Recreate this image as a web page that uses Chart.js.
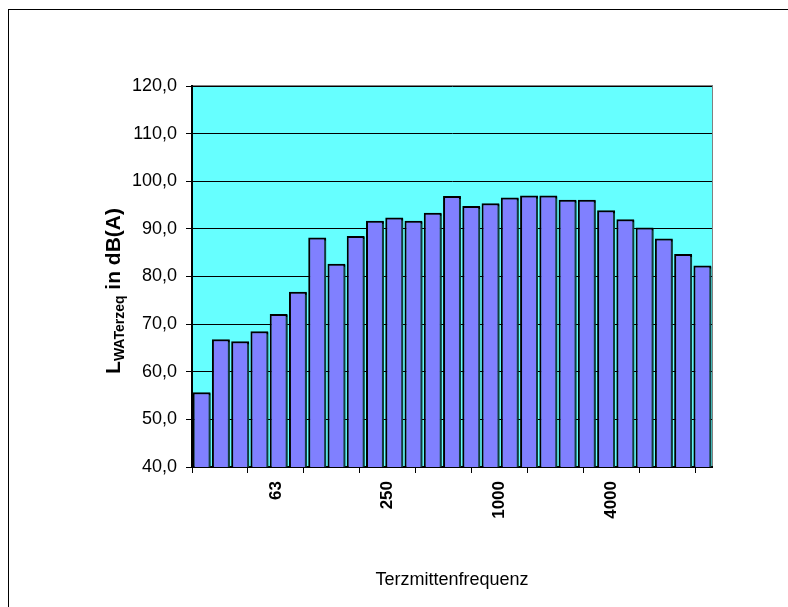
<!DOCTYPE html>
<html>
<head>
<meta charset="utf-8">
<script src="https://cdn.jsdelivr.net/npm/chart.js@4.4.1/dist/chart.umd.min.js"></script>
<style>
    html, body { margin: 0; padding: 0; background: #fff; overflow: hidden; }
    #frame { position: absolute; left: 8px; top: 9px; width: 2000px; height: 2000px; border: 1px solid #000; }
    #wrap { position: absolute; left: 0; top: 0; width: 788px; height: 607px; }
</style>
</head>
<body>
<div id="frame"></div>
<div id="wrap"><canvas id="chart"></canvas></div>
<script>
// third-octave centre frequencies (Hz)
const frequencies = ['25', '31,5', '40', '50', '63', '80', '100', '125', '160', '200', '250', '315', '400', '500',
    '630', '800', '1000', '1250', '1600', '2000', '2500', '3150', '4000', '5000', '6300', '8000', '10000'];
// L_WATerzeq in dB(A)
const levels = [55.7, 66.8, 66.4, 68.5, 72.1, 76.8, 88.2, 82.7, 88.5, 91.7, 92.4, 91.7, 93.4, 96.9,
    94.8, 95.4, 96.6, 97.0, 97.0, 96.1, 96.1, 93.9, 92.0, 90.3, 88.0, 84.7, 82.3];
const xTickLabels = ['63', '250', '1000', '4000'];
const yMin = 40;
const yMax = 120;
const yStep = 10;

const FONT = "'Liberation Sans', Arial, sans-serif";

// the frequency axis of the original has its own tick spacing (one tick every ~2.9 bars)
const tickUnits = 9.3;

const plotBackground = {
    id: 'plotBackground',
    beforeDraw: function (chart) {
        const a = chart.chartArea;
        const ctx = chart.ctx;
        ctx.save();
        ctx.fillStyle = '#66ffff';
        ctx.fillRect(a.left, a.top, a.right - a.left, a.bottom - a.top);
        ctx.strokeStyle = '#808080';
        ctx.lineWidth = 1;
        ctx.strokeRect(a.left + 0.5, a.top - 0.5, a.right - a.left, a.bottom - a.top);
        ctx.restore();
    },
    beforeDatasetsDraw: function (chart) {
        const ctx = chart.ctx;
        ctx.save();
        ctx.shadowColor = 'rgba(20, 70, 70, 0.85)';
        ctx.shadowOffsetX = 2;
        ctx.shadowOffsetY = 1;
        ctx.shadowBlur = 0;
    },
    afterDatasetsDraw: function (chart) {
        chart.ctx.restore();
    }
};

// y title with subscript, drawn rotated
const yTitle = {
    id: 'yTitle',
    afterDraw: function (chart) {
        const ctx = chart.ctx;
        const parts = [
            { text: 'L', size: 21, shift: 0 },
            { text: 'WATerzeq', size: 14, shift: 4 },
            { text: ' in dB(A)', size: 21, shift: 0 }
        ];
        let total = 0;
        parts.forEach((p) => {
            ctx.font = 'bold ' + p.size + 'px ' + FONT;
            p.w = ctx.measureText(p.text).width;
            total += p.w;
        });
        ctx.save();
        ctx.translate(120, 291 + total / 2);
        ctx.rotate(-Math.PI / 2);
        ctx.fillStyle = '#000';
        ctx.textBaseline = 'alphabetic';
        ctx.textAlign = 'left';
        let x = 0;
        parts.forEach((p) => {
            ctx.font = 'bold ' + p.size + 'px ' + FONT;
            ctx.fillText(p.text, x, p.shift);
            x += p.w;
        });
        ctx.restore();
    }
};

new Chart(document.getElementById('chart').getContext('2d'), {
    type: 'bar',
    data: {
        labels: frequencies,
        datasets: [{
            label: 'LWATerzeq',
            data: levels,
            backgroundColor: '#8080ff',
            borderColor: '#000',
            borderWidth: 2,
            borderSkipped: false,
            barPercentage: 0.93,
            categoryPercentage: 1.0
        }]
    },
    options: {
        responsive: true,
        maintainAspectRatio: false,
        animation: false,
        layout: {
            padding: { left: 0, right: 76, top: 86, bottom: 0 }
        },
        plugins: {
            legend: { display: false },
            tooltip: { enabled: false }
        },
        scales: {
            x: {
                type: 'category',
                display: false,
                offset: true
            },
            x2: {
                type: 'linear',
                position: 'bottom',
                min: 0,
                max: tickUnits,
                offset: false,
                afterBuildTicks: function (scale) {
                    const ticks = [];
                    for (let i = 0; i <= Math.floor(tickUnits); i++) {
                        ticks.push({ value: i });
                    }
                    xTickLabels.forEach((l, i) => {
                        ticks.push({ value: 1.5 + 2 * i });
                    });
                    ticks.sort((a, b) => a.value - b.value);
                    scale.ticks = ticks;
                },
                afterFit: function (scale) {
                    scale.height = 140;
                },
                grid: {
                    offset: false,
                    drawOnChartArea: false,
                    drawTicks: true,
                    tickLength: 6,
                    tickWidth: 1,
                    tickColor: (ctx) => (ctx.tick && Number.isInteger(ctx.tick.value)) ? '#000' : 'rgba(0,0,0,0)'
                },
                border: { color: '#000', width: 2 },
                ticks: {
                    autoSkip: false,
                    minRotation: 90,
                    maxRotation: 90,
                    padding: 8,
                    color: '#000',
                    font: { family: FONT, size: 17, weight: 'bold' },
                    callback: function (value) {
                        const i = (value - 1.5) / 2;
                        return Number.isInteger(i) && xTickLabels[i] ? xTickLabels[i] : '';
                    }
                },
                title: {
                    display: true,
                    text: 'Terzmittenfrequenz',
                    color: '#000',
                    font: { family: FONT, size: 18 },
                    padding: { top: 4, bottom: 16 }
                }
            },
            y: {
                min: yMin,
                max: yMax,
                afterFit: function (scale) {
                    scale.width = 192;
                },
                grid: {
                    color: '#000',
                    lineWidth: 1,
                    drawTicks: true,
                    tickLength: 6,
                    tickColor: '#000'
                },
                border: { color: '#000', width: 2 },
                ticks: {
                    stepSize: yStep,
                    padding: 9,
                    color: '#000',
                    font: { family: FONT, size: 18 },
                    callback: function (value) {
                        return value.toFixed(1).replace('.', ',');
                    }
                }
            }
        }
    },
    plugins: [plotBackground, yTitle]
});
</script>
</body>
</html>
